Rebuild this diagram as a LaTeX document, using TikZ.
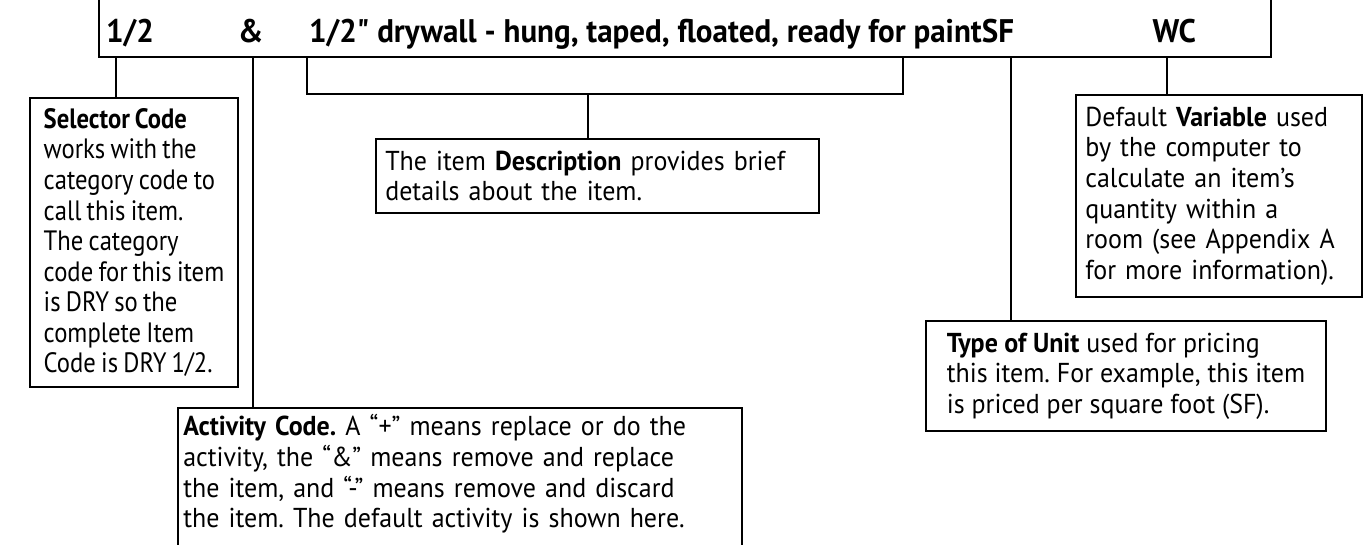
\documentclass[tikz,border=0pt]{standalone}
\usepackage{fontspec}
\setmainfont{PT Sans}
\newfontfamily\bodyfont[FakeStretch=0.95,WordSpace=0.85]{PT Sans}
\newfontfamily\narrowfont[FakeStretch=0.88,WordSpace=0.8]{PT Sans}
\newfontfamily\barfont[FakeStretch=0.95]{PT Sans}
\usetikzlibrary{positioning}
\frenchspacing

\begin{document}
\begin{tikzpicture}[x=0.75pt,y=-0.75pt,line width=1.6pt,
	box/.style={draw,anchor=north west,align=left,outer sep=0pt,inner xsep=6pt,inner ysep=0pt,
		font=\bodyfont\fontsize{20.5}{23}\selectfont},
	code/.style={anchor=base west,inner sep=0pt,font=\barfont\bfseries\fontsize{24.5}{28}\selectfont}]
\useasboundingbox (0,0) rectangle (1371,545);
% the item line
\node[draw,anchor=south west,outer sep=0pt,minimum width=879pt,minimum height=60pt] (bar) at (99,57) {};
\node[code] (selcode) at (105,43) {1/2};
\node[code] (actcode) at (237,43) {\&};
\node[code] (desccode) at (308,43) {1/2" drywall - hung, taped, floated, ready for paintSF};
\node[code,anchor=base east] (varcode) at (1197,43) {WC};
% where the leads leave the line
\coordinate (selpt) at (116,57);
\coordinate (actpt) at (253,57);
\coordinate (dleft) at (307,57);
\coordinate (dright) at (903,57);
\coordinate (dmid) at (588,94);
\coordinate (unitpt) at (1011,57);
\coordinate (varpt) at (1167,57);
% the notes
\node[box,anchor=north east,inner xsep=5pt,minimum width=156pt,minimum height=216.75pt,
	font=\narrowfont\fontsize{21}{22.9}\selectfont] (selbox) at (238,98)
	{\textbf{Selector Code}\\works with the\\category code to\\call this item.\\The category\\code for this item\\is DRY so the\\complete Item\\Code is DRY 1/2.};
\node[box,inner xsep=7pt,text width=318.5pt,minimum height=55.5pt] (descbox) at (376,139)
	{The item \textbf{Description} provides brief\\details about the item.};
\node[box,inner xsep=7pt,text width=200.5pt,minimum height=151.5pt] (varbox) at (1076,95)
	{Default \textbf{Variable} used\\by the computer to\\calculate an item’s\\quantity within a\\room (see Appendix A\\for more information).};
\node[box,inner xsep=8pt,minimum width=300pt,minimum height=82.5pt] (unitbox) at (926,321)
	{\textbf{Type of Unit} used for pricing\\this item. For example, this item\\is priced per square foot (SF).};
\node[box,draw=none,inner xsep=4pt,inner ysep=5pt,text width=415pt] (actbox) at (178,408)
	{\textbf{Activity Code.} A “+” means replace or do the\\activity, the “\&” means remove and replace\\the item, and “-” means remove and discard\\the item. The default activity is shown here.};
\draw ([yshift=-30pt]actbox.south west) -- (actbox.north west) -- (actbox.north east) -- ([yshift=-30pt]actbox.south east);
% leads
\draw (selpt) -- (selpt |- selbox.north);
\draw (actpt) -- (actpt |- actbox.north);
\draw (dleft) |- (dmid) -| (dright);
\draw (dmid) -- (dmid |- descbox.north);
\draw (unitpt) -- (unitpt |- unitbox.north);
\draw (varpt) -- (varpt |- varbox.north);
\end{tikzpicture}
\end{document}
